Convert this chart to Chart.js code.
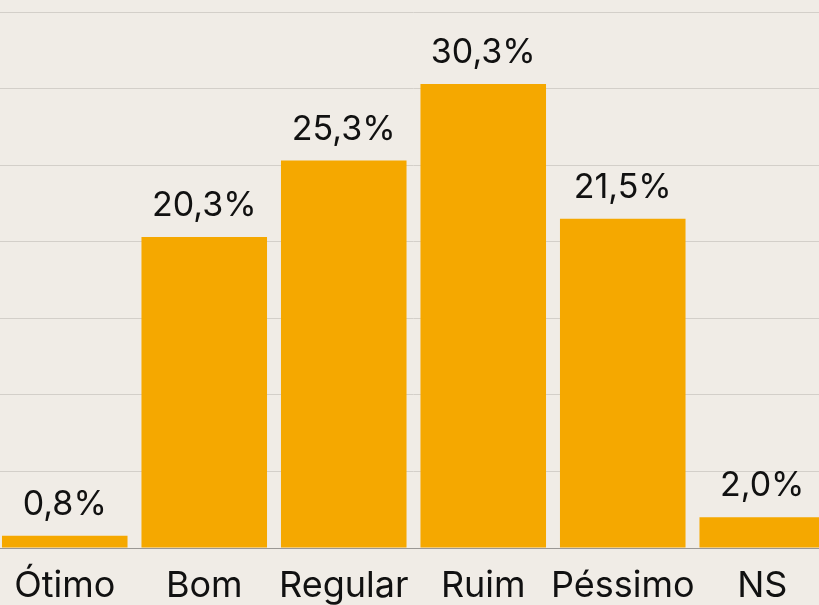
<!DOCTYPE html>
<html>
<head>
<meta charset="utf-8">
<script src="https://cdn.jsdelivr.net/npm/chart.js@4.4.1/dist/chart.umd.min.js"></script>
<style>
	html, body { margin: 0; padding: 0; background: #f0ece6; overflow: hidden; }
	#wrap { position: absolute; left: -5px; top: 0; width: 837px; height: 605px; }
</style>
</head>
<body>
<div id="wrap"><canvas id="bars"></canvas></div>
<script>
var categories = ["Ótimo", "Bom", "Regular", "Ruim", "Péssimo", "NS"];
var values = [0.8, 20.3, 25.3, 30.3, 21.5, 2.0];
var valueLabels = ["0,8%", "20,3%", "25,3%", "30,3%", "21,5%", "2,0%"];

var fontFamily = "Inter, Roboto, 'Liberation Sans', sans-serif";

// draws the percentage over each bar
var barLabels = {
	id: 'barLabels',
	afterDatasetsDraw: function(chart) {
		var ctx = chart.ctx;
		var meta = chart.getDatasetMeta(0);
		ctx.save();
		ctx.fillStyle = '#111111';
		ctx.font = '34px ' + fontFamily;
		ctx.textAlign = 'center';
		ctx.textBaseline = 'alphabetic';
		meta.data.forEach(function(bar, i) {
			ctx.fillText(valueLabels[i], bar.x, bar.y - 21);
		});
		ctx.restore();
	}
};

var config = {
	type: 'bar',
	data: {
		labels: categories,
		datasets: [{
			data: values,
			backgroundColor: '#f5a800',
			barPercentage: 0.9,
			categoryPercentage: 1.0
		}]
	},
	options: {
		responsive: true,
		maintainAspectRatio: false,
		animation: false,
		layout: { padding: { top: 12, left: 0, right: 0, bottom: 0 } },
		plugins: {
			legend: { display: false },
			tooltip: { enabled: false }
		},
		scales: {
			x: {
				grid: { display: false, drawTicks: false },
				border: { display: true, color: '#9a9794', width: 1 },
				ticks: {
					color: '#111111',
					padding: 17,
					autoSkip: false,
					maxRotation: 0,
					minRotation: 0,
					font: { family: fontFamily, size: 36 }
				},
				afterFit: function(scale) {
					scale.height = 57;
					scale.paddingLeft = 0;
					scale.paddingRight = 0;
				}
			},
			y: {
				min: 0,
				max: 35,
				ticks: { display: false, stepSize: 5 },
				grid: { color: '#d3cfc9', lineWidth: 1, drawTicks: false, tickLength: 0 },
				border: { display: false }
			}
		}
	},
	plugins: [barLabels]
};

window.onload = function() {
	window.myBars = new Chart(document.getElementById("bars"), config);
};
</script>
</body>
</html>
